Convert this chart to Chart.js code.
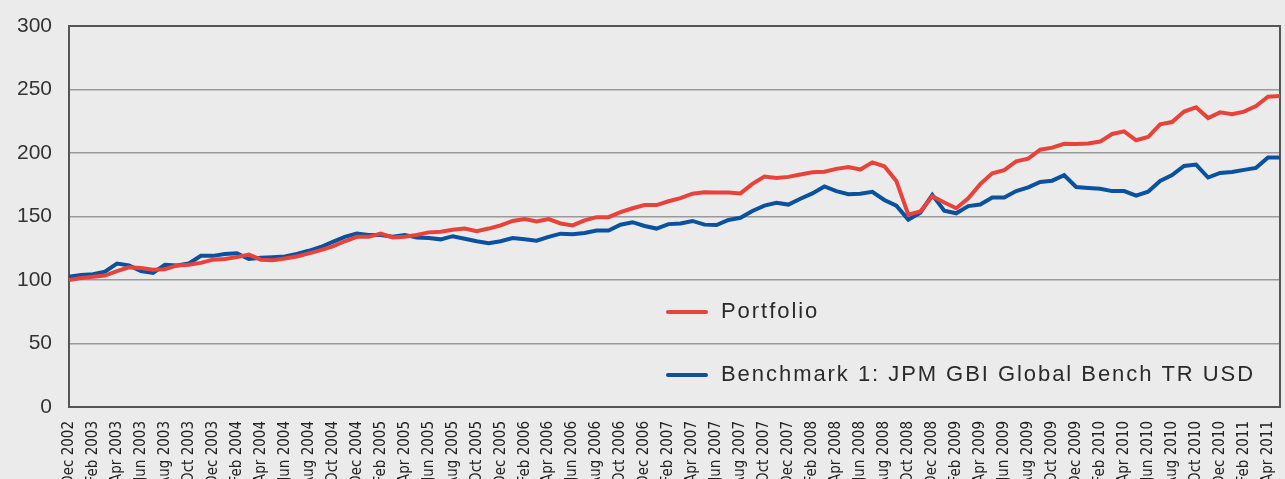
<!DOCTYPE html>
<html>
<head>
<meta charset="utf-8">
<script src="https://cdn.jsdelivr.net/npm/chart.js@4"></script>
<style>
    html, body { margin: 0; padding: 0; background: #ebebeb; }
    #wrap { width: 1285px; height: 479px; position: relative; }
</style>
</head>
<body>
<div id="wrap"><canvas id="perfChart"></canvas></div>
<script>
// Monthly categories, Dec 2002 .. May 2011
const months = [
    'Dec 2002',
    'Jan 2003', 'Feb 2003', 'Mar 2003', 'Apr 2003', 'May 2003', 'Jun 2003', 'Jul 2003', 'Aug 2003', 'Sep 2003', 'Oct 2003', 'Nov 2003', 'Dec 2003',
    'Jan 2004', 'Feb 2004', 'Mar 2004', 'Apr 2004', 'May 2004', 'Jun 2004', 'Jul 2004', 'Aug 2004', 'Sep 2004', 'Oct 2004', 'Nov 2004', 'Dec 2004',
    'Jan 2005', 'Feb 2005', 'Mar 2005', 'Apr 2005', 'May 2005', 'Jun 2005', 'Jul 2005', 'Aug 2005', 'Sep 2005', 'Oct 2005', 'Nov 2005', 'Dec 2005',
    'Jan 2006', 'Feb 2006', 'Mar 2006', 'Apr 2006', 'May 2006', 'Jun 2006', 'Jul 2006', 'Aug 2006', 'Sep 2006', 'Oct 2006', 'Nov 2006', 'Dec 2006',
    'Jan 2007', 'Feb 2007', 'Mar 2007', 'Apr 2007', 'May 2007', 'Jun 2007', 'Jul 2007', 'Aug 2007', 'Sep 2007', 'Oct 2007', 'Nov 2007', 'Dec 2007',
    'Jan 2008', 'Feb 2008', 'Mar 2008', 'Apr 2008', 'May 2008', 'Jun 2008', 'Jul 2008', 'Aug 2008', 'Sep 2008', 'Oct 2008', 'Nov 2008', 'Dec 2008',
    'Jan 2009', 'Feb 2009', 'Mar 2009', 'Apr 2009', 'May 2009', 'Jun 2009', 'Jul 2009', 'Aug 2009', 'Sep 2009', 'Oct 2009', 'Nov 2009', 'Dec 2009',
    'Jan 2010', 'Feb 2010', 'Mar 2010', 'Apr 2010', 'May 2010', 'Jun 2010', 'Jul 2010', 'Aug 2010', 'Sep 2010', 'Oct 2010', 'Nov 2010', 'Dec 2010',
    'Jan 2011', 'Feb 2011', 'Mar 2011', 'Apr 2011', 'May 2011'
];

// Series values (index, rebased to 100)
const portfolio = [
    100,
    101.5, 102.5, 103.5, 107, 110, 109.5, 108, 108.5, 111.5, 112, 113.5, 116,
    116.5, 118, 120, 116, 115.5, 117, 118.5, 121, 123.5, 126.5, 130.5, 134,
    134, 136.5, 133.5, 134, 135.5, 137.5, 138, 139.5, 140.5, 138.5, 140.5, 143,
    146.5, 148, 146, 148, 144.5, 143, 147, 149.5, 149.5, 153.5, 156.5, 159,
    159, 162, 164.5, 168, 169, 168.8, 168.8, 168.2, 175.7, 181.5, 180.4, 181.2,
    183.1, 184.8, 185.3, 187.5, 189, 187, 192.6, 189.5, 178, 151.5, 154, 166,
    161, 156.5, 164.3, 175.5, 184, 186.5, 193.5, 195.5, 202.6, 204.2, 207.3, 207,
    207.5, 209, 215, 217, 210, 212.6, 222.6, 224.4, 232.6, 236, 227.5, 232,
    230.5, 232.6, 237, 244.3, 244.8
];
const benchmark = [
    102.5,
    104, 104.5, 106.5, 113, 111.5, 107, 105.5, 112, 111.5, 113, 119, 119,
    120.5, 121, 116.5, 117.5, 118, 118.5, 120.5, 123, 126, 130, 134, 136.5,
    135.5, 135.5, 134, 135.5, 133.5, 133, 132, 134.5, 132.5, 130.5, 129, 130.5,
    133, 132, 131, 134, 136.5, 136, 137, 139, 139, 143.5, 145.5, 142.5,
    140.5, 144, 144.5, 146.5, 143.6, 143.3, 147.3, 149, 154.4, 158.6, 160.8, 159.4,
    164, 168.2, 173.7, 170, 167.5, 168, 169.5, 163, 158.5, 147.5, 153, 167,
    154.5, 152.5, 158.2, 159.4, 165, 165, 170, 173, 177.2, 178.2, 182.5, 173.2,
    172.4, 171.8, 170, 170, 166.5, 169.5, 178, 182.6, 189.8, 190.9, 180.7, 184.3,
    185, 186.7, 188.3, 196.5, 196.5
];

const seriesNames = ['Portfolio', 'Benchmark 1: JPM GBI Global Bench TR USD'];
const seriesColors = ['#e8423a', '#0a519e'];
const yTicks = [0, 50, 100, 150, 200, 250, 300];

// Frame round the plot area
const framePlugin = {
    id: 'frame',
    beforeDatasetsDraw(chart) {
        const { ctx, chartArea: a } = chart;
        ctx.save();
        ctx.strokeStyle = '#555555';
        ctx.lineWidth = 2;
        ctx.strokeRect(a.left, a.top, a.right - a.left, a.bottom - a.top);
        ctx.restore();
    }
};

// Legend drawn inside the plot, below the lines
const innerLegend = {
    id: 'innerLegend',
    afterDatasetsDraw(chart) {
        const { ctx } = chart;
        const rows = [312, 375];
        ctx.save();
        ctx.font = '22px "Liberation Sans", Arial, sans-serif';
        ctx.letterSpacing = '1.95px';
        ctx.textBaseline = 'middle';
        chart.data.datasets.forEach((ds, i) => {
            const y = rows[i];
            ctx.strokeStyle = ds.borderColor;
            ctx.lineWidth = 4;
            ctx.lineCap = 'round';
            ctx.beginPath();
            ctx.moveTo(668, y);
            ctx.lineTo(706, y);
            ctx.stroke();
            ctx.fillStyle = '#2a2a2a';
            ctx.fillText(ds.label, 721, y);
        });
        ctx.restore();
    }
};

const ctx = document.getElementById('perfChart').getContext('2d');
const perfChart = new Chart(ctx, {
    type: 'line',
    data: {
        labels: months,
        datasets: [
            {
                label: seriesNames[0],
                data: portfolio,
                borderColor: seriesColors[0],
                backgroundColor: seriesColors[0],
                borderWidth: 4,
                pointRadius: 0,
                tension: 0
            },
            {
                label: seriesNames[1],
                data: benchmark,
                borderColor: seriesColors[1],
                backgroundColor: seriesColors[1],
                borderWidth: 4,
                pointRadius: 0,
                tension: 0
            }
        ]
    },
    options: {
        responsive: true,
        maintainAspectRatio: false,
        animation: false,
        layout: {
            padding: { top: 26, right: 5, left: 0, bottom: 0 }
        },
        plugins: {
            legend: { display: false },
            tooltip: { enabled: false }
        },
        scales: {
            x: {
                offset: false,
                grid: { display: false, drawTicks: false },
                border: { display: false },
                afterFit(scale) {
                    scale.height = 72;
                    scale.paddingLeft = 0;
                    scale.paddingRight = 0;
                },
                ticks: {
                    autoSkip: false,
                    minRotation: 90,
                    maxRotation: 90,
                    padding: 14,
                    color: '#222222',
                    font: { family: '"Liberation Sans Narrow", "DejaVu Sans Condensed", sans-serif', size: 15 },
                    callback: function(value, index) {
                        return index % 2 === 0 ? this.getLabelForValue(value) : '';
                    }
                }
            },
            y: {
                min: 0,
                max: 300,
                afterFit(scale) {
                    scale.width = 69;
                    scale.paddingTop = 0;
                    scale.paddingBottom = 0;
                },
                afterBuildTicks(scale) {
                    scale.ticks = yTicks.map(v => ({ value: v }));
                },
                grid: {
                    color: '#9a9a9a',
                    lineWidth: 1.5,
                    drawTicks: false
                },
                border: { display: false },
                ticks: {
                    padding: 17,
                    color: '#333333',
                    font: { family: '"Liberation Sans", Arial, sans-serif', size: 21 }
                }
            }
        }
    },
    plugins: [framePlugin, innerLegend]
});
</script>
</body>
</html>
